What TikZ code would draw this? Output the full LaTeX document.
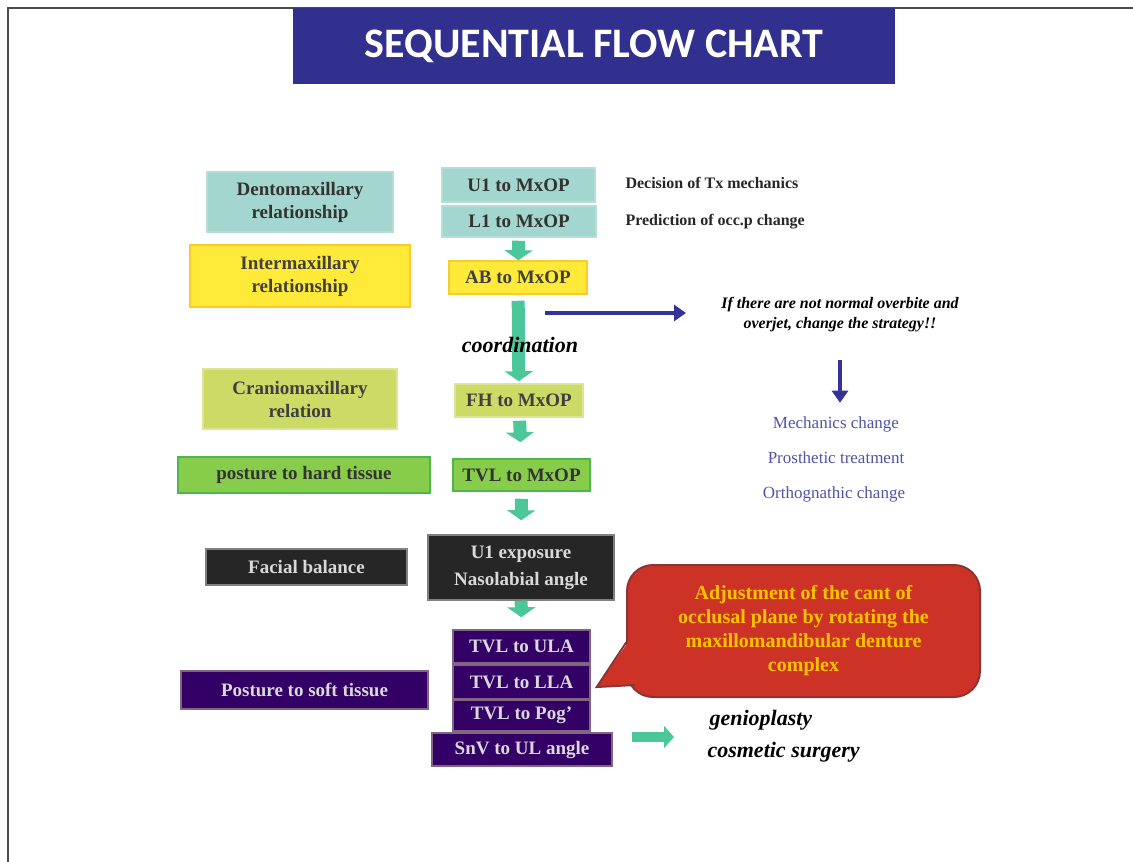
\documentclass[tikz,border=0pt]{standalone}
\usepackage{fontspec}
\setmainfont{Liberation Serif}
\newfontfamily\titlefont{Carlito}
\usetikzlibrary{arrows.meta,calc}

\definecolor{titleblue}{HTML}{32308F}
\definecolor{boxteal}{HTML}{A3D6CF}
\definecolor{boxyellow}{HTML}{FFEA3A}
\definecolor{boxolive}{HTML}{CCDA66}
\definecolor{boxgreen}{HTML}{88CC4C}
\definecolor{boxdark}{HTML}{262626}
\definecolor{boxpurple}{HTML}{330066}
\definecolor{arrowteal}{HTML}{4CC79A}
\definecolor{arrowblue}{HTML}{333399}
\definecolor{optblue}{HTML}{5252A8}
\definecolor{calloutred}{HTML}{CC3326}
\definecolor{calloutline}{HTML}{8E3333}
\definecolor{callouttext}{HTML}{FFC400}

\tikzset{
  box/.style={draw, line width=1.5pt, align=center, inner sep=0pt,
    font=\bfseries\fontsize{19}{23}\selectfont},
  tealbox/.style={box, fill=boxteal, draw=boxteal!80!white, text=black!80},
  yellowbox/.style={box, fill=boxyellow, draw=boxyellow!70!orange, text=black!75},
  olivebox/.style={box, fill=boxolive, draw=boxolive!70!white, text=black!75},
  greenbox/.style={box, fill=boxgreen, draw=green!60!black!70, text=black!80},
  darkbox/.style={box, fill=boxdark, draw=gray, text=white!85!black},
  purplebox/.style={box, fill=boxpurple, draw=gray!80!violet, text=white!85!black},
  note/.style={font=\bfseries\fontsize{16}{20}\selectfont, text=black!85},
  option/.style={font=\fontsize{17}{20}\selectfont, text=optblue},
  fatarrow/.style={draw=arrowteal, line width=13pt, -{Triangle[length=10pt,width=28pt]}},
  bluearrow/.style={draw=arrowblue, line width=4pt, -{Triangle[length=12pt,width=16pt]}},
}

\begin{document}
\begin{tikzpicture}[x=1pt,y=-1pt]
\useasboundingbox (0,0) rectangle (1133,862);
\draw[gray!60!black, line width=2pt] (8,862) -- (8,8) -- (1133,8);

% title bar
\node[fill=titleblue, minimum width=602pt, minimum height=76pt, inner sep=0pt,
  text=white, font=\titlefont\bfseries\fontsize{42}{46}\selectfont] (title) at (594,46) {SEQUENTIAL FLOW CHART};

% left column
\node[tealbox, minimum width=186pt, minimum height=60pt] (dento) at (300,202) {Dentomaxillary\\relationship};
\node[yellowbox, minimum width=220pt, minimum height=62pt] (inter) at (300,276) {Intermaxillary\\relationship};
\node[olivebox, minimum width=194pt, minimum height=60pt] (cranio) at (300,399) {Craniomaxillary\\relation};
\node[greenbox, minimum width=252pt, minimum height=36pt] (hard) at (304,475) {posture to hard tissue};
\node[darkbox, minimum width=201pt, minimum height=36pt] (facial) at (306.5,567) {Facial balance};
\node[purplebox, minimum width=247pt, minimum height=38pt] (soft) at (304.5,690) {Posture to soft tissue};

% centre column
\node[tealbox, minimum width=153pt, minimum height=34pt] (u1) at (518.5,185) {U1 to MxOP};
\node[tealbox, minimum width=154pt, minimum height=31pt] (l1) at (519,221.5) {L1 to MxOP};
\node[yellowbox, minimum width=138pt, minimum height=33pt] (ab) at (518,277.5) {AB to MxOP};
\node[olivebox, minimum width=128pt, minimum height=33pt] (fh) at (519,400.5) {FH to MxOP};
\node[greenbox, minimum width=137pt, minimum height=32pt] (tvlmx) at (521.5,475) {TVL to MxOP};
\node[darkbox, minimum width=186pt, minimum height=65pt] (expo) at (521,567.5) {U1 exposure\\[4pt]Nasolabial angle};
\node[purplebox, minimum width=137pt, minimum height=33pt] (ula) at (521.5,646.5) {TVL to ULA};
\node[purplebox, minimum width=137pt, minimum height=34pt] (lla) at (521.5,682) {TVL to LLA};
\node[purplebox, minimum width=137pt, minimum height=31pt] (pog) at (521.5,715.5) {TVL to Pog'};
\node[purplebox, minimum width=180pt, minimum height=33pt] (snv) at (522,749.5) {SnV to UL angle};

% arrows between steps
\draw[fatarrow, shorten <=3pt] (l1) -- (ab);
\draw[fatarrow, shorten <=6pt, shorten >=2pt] (ab) -- (fh);
\draw[fatarrow, shorten <=3pt, shorten >=16pt] (fh) -- (tvlmx);
\draw[fatarrow, shorten <=7pt, shorten >=14pt] (tvlmx) -- (expo);
\draw[fatarrow, shorten >=12pt] (expo) -- (ula);
\node[font=\bfseries\itshape\fontsize{22}{24}\selectfont] (coord) at (520,345) {coordination};

% right side notes
\node[note, anchor=west] (decision) at (622,183) {Decision of Tx mechanics};
\node[note, anchor=west] (predict) at (622,222) {Prediction of occ.p change};

\coordinate (branch) at (545,313);
\coordinate (branchend) at (686,313);
\draw[bluearrow] (branch) -- (branchend);
\node[font=\bfseries\itshape\fontsize{16}{20}\selectfont, align=center] (strategy) at (840,315)
  {If there are not normal overbite and\\overjet, change the strategy!!};

\node[option] (mech) at (836,424) {Mechanics change};
\node[option] (prosth) at (836,458) {Prosthetic treatment};
\node[option] (ortho) at (834,494) {Orthognathic change};
\draw[bluearrow, shorten <=24pt, shorten >=10pt] (strategy) -- (strategy |- mech.north);

% callout
\node[fill=calloutred, draw=calloutline, line width=2pt, rounded corners=26pt,
  minimum width=353pt, minimum height=132pt, align=center, text=callouttext,
  font=\bfseries\fontsize{20}{24}\selectfont] (adjust) at (803.5,631)
  {Adjustment of the cant of\\occlusal plane by rotating the\\maxillomandibular denture\\complex};
\coordinate (tip) at ($(lla.east)+(6,5)$);
\fill[calloutred] ($(adjust.west)+(3,10)$) -- (tip) -- ($(adjust.west)+(10,54.5)$) -- ($(adjust.west)+(18,30)$) -- cycle;
\draw[calloutline, line width=2pt] ($(adjust.west)+(0.5,11)$) -- (tip) -- ($(adjust.west)+(9,54)$);

% outcome
\node[font=\bfseries\itshape\fontsize{22}{24}\selectfont, anchor=west] (genio) at (706,720) {genioplasty};
\node[font=\bfseries\itshape\fontsize{22}{24}\selectfont, anchor=west] (cosmetic) at (704,752) {cosmetic surgery};
\coordinate (outstart) at (632,737);
\coordinate (outend) at (674,737);
\draw[draw=arrowteal, line width=10pt, -{Triangle[length=10pt,width=22pt]}] (outstart) -- (outend);
\end{tikzpicture}
\end{document}
